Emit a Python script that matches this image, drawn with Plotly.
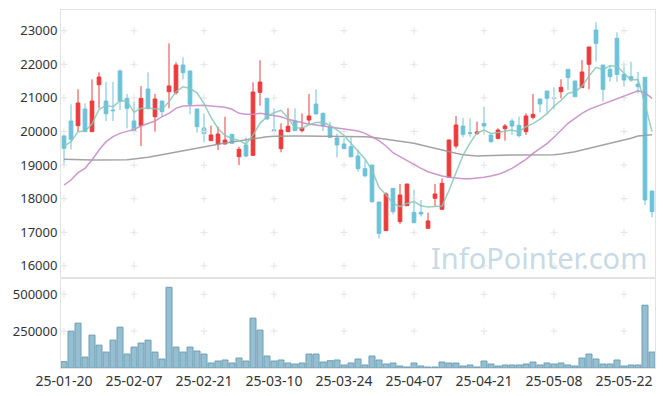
import plotly.graph_objects as go

dates = ["25-01-20","25-01-21","25-01-22","25-01-23","25-01-24","25-01-31",
         "25-02-03","25-02-04","25-02-05","25-02-06","25-02-07",
         "25-02-10","25-02-11","25-02-12","25-02-13","25-02-14",
         "25-02-17","25-02-18","25-02-19","25-02-20","25-02-21",
         "25-02-24","25-02-25","25-02-26","25-02-27","25-02-28",
         "25-03-04","25-03-05","25-03-06","25-03-07",
         "25-03-10","25-03-11","25-03-12","25-03-13","25-03-14",
         "25-03-17","25-03-18","25-03-19","25-03-20","25-03-21",
         "25-03-24","25-03-25","25-03-26","25-03-27","25-03-28","25-03-31",
         "25-04-01","25-04-02","25-04-03","25-04-04",
         "25-04-07","25-04-08","25-04-09","25-04-10","25-04-11",
         "25-04-14","25-04-15","25-04-16","25-04-17","25-04-18",
         "25-04-21","25-04-22","25-04-23","25-04-24","25-04-25",
         "25-04-28","25-04-29","25-04-30","25-05-02","25-05-07",
         "25-05-08","25-05-09","25-05-12","25-05-13","25-05-14","25-05-15","25-05-16",
         "25-05-19","25-05-20","25-05-21","25-05-22","25-05-23",
         "25-05-26","25-05-27","25-05-28"]

open_ = [19866,20312,20173,20669,19995,21393,20907,20640,21800,20987,
         20313,20173,21265,20441,20907,21185,21156,21979,21800,20669,
         20104,19727,19628,19628,19915,19251,19598,19290,21165,20987,
         20050,19489,19995,20312,20025,20342,20818,20540,20124,19806,
         19628,19548,19271,18894,19003,17902,17049,18308,17317,17793,
         17594,17594,17118,18011,17684,18636,19568,20163,19960,19945,
         20243,19896,19796,20084,20312,20183,19995,20421,20967,21205,
         21000,21186,21850,21503,21305,21999,23021,21979,21850,22773,
         21701,21632,21414,21612,18229]
high = [19900,20808,21255,20838,21552,21760,21473,21473,21850,21116,
        20890,21354,21760,21116,20907,22624,22058,22207,21820,20680,
        20540,20173,20144,20441,19930,19548,19826,21463,22118,21000,
        20689,20243,20689,20689,20540,21116,21255,20560,20292,19945,
        19796,19826,19449,19132,19003,17902,18190,18308,18437,18440,
        18259,17961,17584,18437,18606,19760,20461,20392,20392,20293,
        20739,19900,20094,20223,20382,20441,20540,21116,20970,21205,
        21315,21553,21850,21503,22128,22515,23249,21979,21979,22951,
        22029,22078,21771,21612,18229]
low = [19003,19469,19995,19995,19995,20700,20312,20312,20640,20094,
       19990,19568,20650,19995,20441,20689,21100,21552,20510,19965,
       19677,19727,19449,19620,19628,19003,19231,19290,20769,20360,
       20015,19380,19995,20020,19975,20193,20520,20015,19820,19231,
       19480,19231,18804,18636,17882,16820,17049,17535,17247,17790,
       17267,17465,17118,17783,17684,18630,19499,19826,19846,19896,
       19896,19668,19767,19727,19896,19826,19896,20362,20570,20541,
       20660,20987,21235,21037,21305,21255,22078,20888,21483,21483,
       21334,21483,21136,17813,17446]
close = [19499,19767,20848,19995,20907,21622,20530,20620,20910,20689,
         20015,20987,20689,20967,20590,21354,21979,21751,20808,20144,
         19935,19896,19925,19747,19648,19469,19271,21175,21473,20372,
         20030,20045,20154,20025,20104,20461,20521,20173,19826,19598,
         19489,19251,18894,18685,17912,16969,18140,17614,18110,18437,
         17287,17545,17337,18140,18457,19747,20193,19916,19945,19985,
         20163,19697,20045,20163,20163,19876,20461,20511,20818,20987,
         20980,21315,21602,21037,21771,22515,22624,21255,21632,21701,
         21533,21533,21334,17962,17615]

ma5 = [19568,19697,19995,20015,20220,20660,20770,20739,20907,20907,
       20570,20689,20689,20680,20660,20888,21185,21330,21280,21150,
       20830,20420,20090,19880,19790,19730,19620,19900,20243,20441,
       20560,20630,20400,20110,20100,20200,20270,20275,20180,20050,
       19880,19650,19420,19180,18850,18340,18120,17870,17760,17860,
       17915,17790,17750,17755,17780,18245,18775,19291,19652,19957,
       20040,19941,19967,20011,20046,19989,20142,20235,20366,20531,
       20751,20922,21140,21184,21341,21648,21910,21840,21959,21945,
       21749,21531,21547,20813,19995]
ma20 = [18408,18557,18775,18904,19152,19449,19697,19846,19945,19995,
        20064,20163,20243,20312,20441,20540,20689,20759,20769,20779,
        20779,20759,20739,20719,20660,20540,20511,20511,20540,20511,
        20491,20441,20362,20312,20263,20213,20193,20163,20144,20124,
        20094,20064,20015,19945,19846,19727,19568,19370,19251,19132,
        19003,18904,18804,18735,18675,18636,18606,18596,18596,18606,
        18636,18675,18725,18804,18904,19033,19172,19350,19499,19638,
        19827,20025,20243,20392,20541,20660,20739,20809,20888,20987,
        21057,21136,21215,21156,20987]
ma60 = [19172,19162,19162,19162,19152,19152,19152,19152,19162,19162,
        19182,19202,19231,19271,19310,19350,19390,19430,19479,19519,
        19548,19588,19628,19657,19687,19717,19747,19777,19826,19846,
        19856,19866,19866,19866,19866,19866,19866,19866,19866,19866,
        19866,19866,19866,19846,19826,19796,19777,19747,19727,19697,
        19648,19598,19548,19489,19430,19400,19350,19310,19281,19271,
        19281,19290,19300,19300,19300,19300,19300,19300,19300,19301,
        19311,19331,19360,19400,19450,19499,19549,19598,19648,19698,
        19747,19797,19866,19896,19906]
volume = [42800,250000,304000,74300,223000,155000,108000,189000,277000,94600,
          142000,169000,189000,108000,60800,547000,142000,108000,142000,115000,
          94600,33800,47300,54000,33800,67600,47300,338000,257000,81100,
          47300,54000,33800,27000,33800,94600,94600,40500,49500,54000,
          20300,33800,60800,20300,81100,54000,27000,33800,13500,6800,
          33800,13500,6800,6800,40500,33800,33800,13500,20300,6800,
          47300,27000,13500,20300,20300,20300,27000,40500,20300,33800,
          27000,33800,20300,13500,67600,94600,60800,27000,27000,54000,
          13500,20300,20300,425600,108000]

price_ticks = [16000, 17000, 18000, 19000, 20000, 21000, 22000, 23000]
vol_ticks = [250000, 500000]
x_ticks = dates[::10]

UP = "#ec3b3b"
DOWN = "#6cc2d9"
FONT = "Noto Sans"
CROSS = dict(symbol="cross-thin", size=5, line=dict(color="#e4e4e4", width=1))

fig = go.Figure()

# grid crosses at tick intersections
gx, gy = [], []
for t in x_ticks:
    for p in price_ticks:
        gx.append(t); gy.append(p)
fig.add_trace(go.Scatter(x=gx, y=gy, mode="markers", xaxis="x", yaxis="y",
                         marker=CROSS, hoverinfo="skip", showlegend=False))
vx, vy = [], []
for t in x_ticks:
    for p in vol_ticks:
        vx.append(t); vy.append(p)
fig.add_trace(go.Scatter(x=vx, y=vy, mode="markers", xaxis="x2", yaxis="y2",
                         marker=CROSS, hoverinfo="skip", showlegend=False))

fig.add_trace(go.Candlestick(x=dates, open=open_, high=high, low=low, close=close,
                             xaxis="x", yaxis="y",
                             increasing=dict(line=dict(color=UP, width=1), fillcolor=UP),
                             decreasing=dict(line=dict(color=DOWN, width=1), fillcolor=DOWN),
                             whiskerwidth=0, showlegend=False))

fig.add_trace(go.Scatter(x=dates, y=ma60, mode="lines", xaxis="x", yaxis="y",
                         line=dict(color="#9a9a9a", width=1.5), opacity=0.9, showlegend=False))
fig.add_trace(go.Scatter(x=dates, y=ma20, mode="lines", xaxis="x", yaxis="y",
                         line=dict(color="#c98cc8", width=1.5), opacity=0.9, showlegend=False))
fig.add_trace(go.Scatter(x=dates, y=ma5, mode="lines", xaxis="x", yaxis="y",
                         line=dict(color="#86c8b6", width=1.5), opacity=0.85, showlegend=False))

fig.add_trace(go.Bar(x=dates, y=volume, xaxis="x2", yaxis="y2",
                     marker=dict(color="#95bfd0", line=dict(color="#6f9eb5", width=1)),
                     showlegend=False))

# the page body has an 8px margin, so the figure is sized to end at the window edge
split = 90 / 358
axis_common = dict(showline=True, linecolor="#e3e3e3", linewidth=1, mirror=True,
                   showgrid=False, zeroline=False)

fig.update_layout(
    width=657, height=388,
    margin=dict(l=53, r=10, t=2, b=28),
    paper_bgcolor="white", plot_bgcolor="white",
    bargap=0.14, boxgap=0.25,
    font=dict(family=FONT, size=13, color="#333333"),
    xaxis=dict(type="category", categoryorder="array", categoryarray=dates,
               domain=[0, 1], anchor="y", matches="x2",
               range=[-0.43, 84.43], showticklabels=False,
               rangeslider=dict(visible=False), **axis_common),
    xaxis2=dict(type="category", categoryorder="array", categoryarray=dates,
                domain=[0, 1], anchor="y2",
                range=[-0.43, 84.43], tickmode="array", tickvals=x_ticks,
                ticktext=x_ticks, ticks="", tickangle=0,
                tickfont=dict(size=14, color="#333333"), **axis_common),
    yaxis=dict(domain=[split, 1], anchor="x", range=[15640, 23616],
               tickmode="array", tickvals=price_ticks,
               ticktext=[str(v) for v in price_ticks], ticks="",
               tickfont=dict(size=13, color="#333333"), **axis_common),
    yaxis2=dict(domain=[0, split], anchor="x2", range=[0, 610000],
                tickmode="array", tickvals=vol_ticks,
                ticktext=[str(v) for v in vol_ticks], ticks="",
                tickfont=dict(size=13, color="#333333"), **axis_common),
    annotations=[dict(text="InfoPointer.com", xref="paper", yref="paper",
                      x=0.99, y=0.31, xanchor="right", yanchor="middle",
                      showarrow=False,
                      font=dict(family=FONT, size=29, color="#c7dae5"))],
)

fig.write_html("out.html")
